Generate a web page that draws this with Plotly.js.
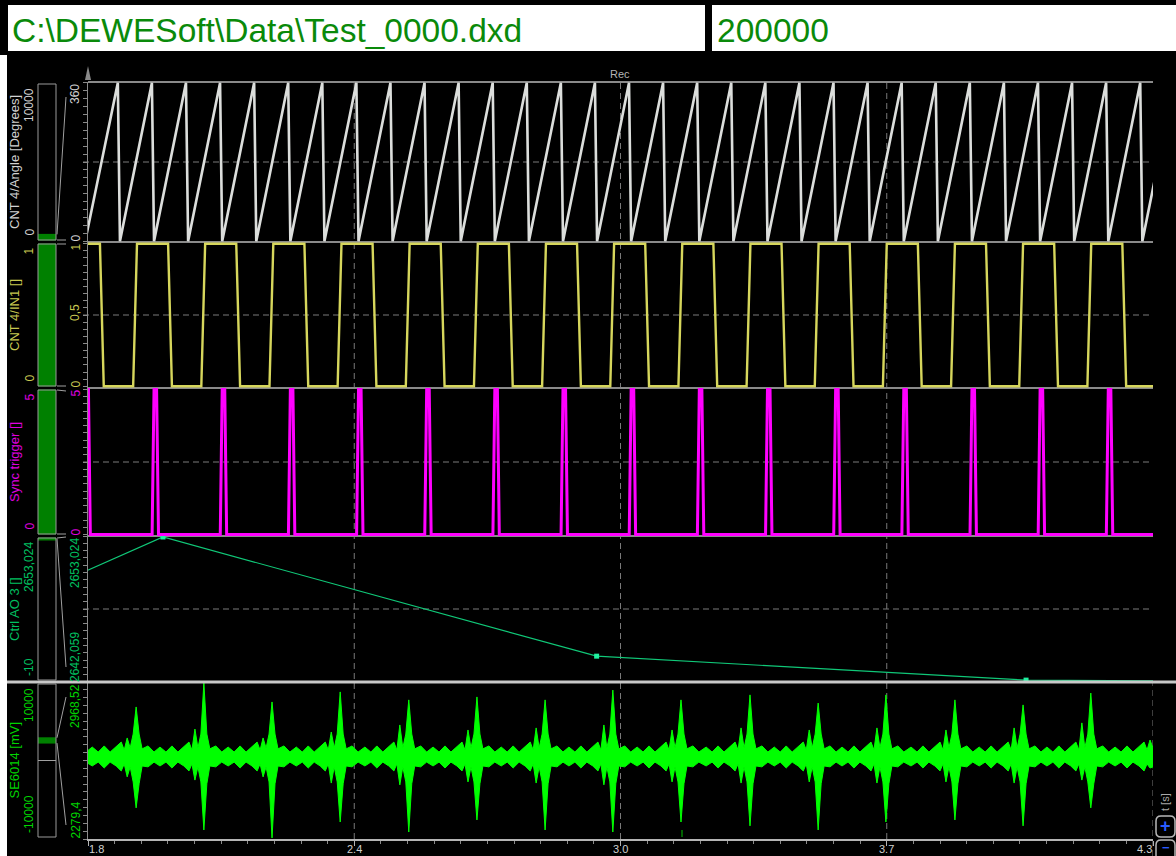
<!DOCTYPE html>
<html><head><meta charset="utf-8">
<script src="https://cdn.plot.ly/plotly-3.0.1.min.js"></script>
<style>html,body{margin:0;padding:0;background:#000;overflow:hidden}#chart{width:1176px;height:856px}</style>
</head><body><div id="chart"></div><script>
// ---------------- data ----------------
const timeTickVals = [1.8, 2.425, 3.05, 3.675, 4.3];
const timeTickText = ['1.8', '2.4', '3.0', '3.7', '4.3'];

const channelNames = ['CNT 4/Angle [Degrees]', 'CNT 4/IN1 []', 'Sync trigger []', 'Ctrl AO 3 []', 'SE6014 [mV]'];
const fullRangeMin = [0, 0, 0, -10, -10000];
const fullRangeMax = [10000, 1, 5, 2653.024, 10000];
const fullRangeText = [['10000', '0'], ['1', '0'], ['5', '0'], ['2653,024', '-10'], ['10000', '-10000']];
const shownMin = [0, 0, 0, 2642.059, 2279.4];
const shownMax = [360, 1, 5, 2653.024, 2968.52];
const shownText = [['360', '0'], ['1', '0'], ['5', '0'], ['2653,024', '2642,059'], ['2968,52', '2279,4']];

// CNT 4/Angle sawtooth: trough (0 deg) and peak (360 deg) times
const angleTroughTimes = [1.7935,1.875,1.955,2.035,2.115,2.195,2.275,2.355,2.435,2.515,2.595,2.675,2.755,2.835,2.915,2.995,3.075,3.155,3.235,3.315,3.395,3.475,3.555,3.635,3.715,3.795,3.875,3.955,4.035,4.115,4.195,4.275];
const anglePeakTimes   = [1.870,1.950,2.030,2.110,2.190,2.270,2.350,2.430,2.510,2.590,2.670,2.750,2.830,2.910,2.990,3.070,3.150,3.230,3.310,3.390,3.470,3.550,3.630,3.710,3.790,3.870,3.950,4.030,4.110,4.190,4.270,4.350];
const angleLow = 0, angleHigh = 360;

// CNT 4/IN1 square wave edges
const in1FallTimes = [1.828,1.988,2.148,2.308,2.468,2.628,2.788,2.948,3.108,3.268,3.428,3.588,3.748,3.908,4.068,4.228];
const in1RiseTimes = [1.906,2.066,2.226,2.386,2.546,2.706,2.866,3.026,3.186,3.346,3.506,3.666,3.826,3.986,4.146,4.306];
const in1Low = 0, in1High = 1;

// Sync trigger pulses
const syncPulseTimes = [1.798,1.958,2.118,2.278,2.438,2.598,2.758,2.918,3.078,3.238,3.398,3.558,3.718,3.878,4.038,4.198];
const syncLow = 0, syncHigh = 5;

// Ctrl AO 3 samples
const ao3Times  = [0.966, 1.976, 2.994, 4.002, 5.010];
const ao3Values = [2638.7, 2652.95, 2644.0, 2642.2, 2642.0];

// SE6014 envelope: per-burst spike values and the quiet-band shape between bursts
const seSpikeTimes = [1.753,1.913,2.072,2.232,2.392,2.553,2.713,2.873,3.032,3.192,3.354,3.514,3.673,3.835,3.995,4.154,4.314];
const seSpikeHigh  = [2889,2859,2964,2881,2925,2890,2903,2890,2933,2890,2912,2876,2912,2890,2868,2920,2890];
const seSpikeLow   = [2363,2416,2319,2284,2354,2310,2363,2319,2310,2354,2337,2319,2354,2363,2337,2416,2363];
const sePreHigh    = [2758,2723,2762,2723,2749,2780,2758,2767,2780,2758,2767,2758,2767,2758,2767,2789,2714];
const sePreLow     = [2530,2552,2538,2552,2525,2517,2530,2525,2517,2530,2525,2530,2525,2530,2525,2538,2591];
const seBandOffsets = [-0.103,-0.089,-0.075,-0.061,-0.047,-0.035,-0.028,-0.014,-0.007,0.007,0.014,0.028,0.042];
const seBandHigh    = [2683,2661,2688,2661,2683,2705,2670,2679,2740,2740,2675,2688,2661];
const seBandLow     = [2600,2617,2591,2617,2600,2578,2609,2596,2530,2522,2600,2596,2617];
const sePreOffset = -0.021;

// ---------------- geometry helpers ----------------
const W = 1176, H = 856;
const PL = 88, PR = 1153, PT = 82, PB = 839;
const P = x => (x - PL) / (PR - PL);
const Q = y => (PB - y) / (PB - PT);
const panels = [[82,242],[242,388],[388,536],[536,682],[682,839]];
const lineCol = ['#dcdedc', '#d6d65c', '#ff00ff', '#10c878', '#00ff00'];
const lblCol  = ['#d2d2d2', '#c8c850', '#e000e0', '#00c060', '#00d400'];
const FONT = 'Liberation Sans, Arial, sans-serif';

// ---------------- build traces ----------------
const angT = [], angV = [];
angleTroughTimes.forEach((t, i) => {
  angT.push(t); angV.push(angleLow);
  angT.push(anglePeakTimes[i]); angV.push(angleHigh);
});

const EDGE = 0.009;
const in1Ev = in1FallTimes.map(t => [t, 'f']).concat(in1RiseTimes.map(t => [t, 'r'])).sort((a, b) => a[0] - b[0]);
const in1T = [1.75], in1V = [in1High];
in1Ev.forEach(e => {
  if (e[1] === 'f') { in1T.push(e[0], e[0] + EDGE); in1V.push(in1High, in1Low); }
  else { in1T.push(e[0], e[0] + EDGE); in1V.push(in1Low, in1High); }
});
in1T.push(4.4); in1V.push(in1V[in1V.length - 1]);

const syncT = [1.75], syncV = [syncLow];
syncPulseTimes.forEach(t => {
  syncT.push(t - 0.0075, t - 0.003, t + 0.003, t + 0.0075);
  syncV.push(syncLow, syncHigh, syncHigh, syncLow);
});
syncT.push(4.4); syncV.push(syncLow);

const seT = [], seHi = [], seLo = [];
seSpikeTimes.forEach((s, i) => {
  const pts = seBandOffsets.map((o, j) => [o, seBandHigh[j], seBandLow[j]]);
  pts.push([sePreOffset, sePreHigh[i], sePreLow[i]]);
  pts.push([0, seSpikeHigh[i], seSpikeLow[i]]);
  pts.sort((a, b) => a[0] - b[0]);
  pts.forEach(p => { seT.push(+(s + p[0]).toFixed(4)); seHi.push(p[1]); seLo.push(p[2]); });
});

const base = {type: 'scatter', mode: 'lines', xaxis: 'x', hoverinfo: 'skip'};
const traces = [
  Object.assign({}, base, {x: seT, y: seLo, yaxis: 'y5', line: {color: lineCol[4], width: 1}}),
  Object.assign({}, base, {x: seT, y: seHi, yaxis: 'y5', fill: 'tonexty', fillcolor: lineCol[4], line: {color: lineCol[4], width: 1}}),
  Object.assign({}, base, {x: ao3Times, y: ao3Values, yaxis: 'y4', mode: 'lines+markers', line: {color: lineCol[3], width: 1.2}, marker: {color: '#20f0a0', size: 5, symbol: 'square'}}),
  Object.assign({}, base, {x: syncT, y: syncV, yaxis: 'y3', line: {color: lineCol[2], width: 3}}),
  Object.assign({}, base, {x: in1T, y: in1V, yaxis: 'y2', line: {color: lineCol[1], width: 2.4}}),
  Object.assign({}, base, {x: angT, y: angV, yaxis: 'y', line: {color: lineCol[0], width: 2.6}})
];

// ---------------- layout ----------------
const yPad = [[-2, 362], [-0.012, 1.012], [-0.05, 5.05], [shownMin[3], shownMax[3]], [shownMin[4], shownMax[4]]];
const layout = {
  width: W, height: H,
  margin: {l: PL, r: W - PR, t: PT, b: H - PB, pad: 0},
  paper_bgcolor: '#000', plot_bgcolor: '#000',
  showlegend: false,
  xaxis: {
    range: [1.8, 4.3], anchor: 'y5', showgrid: false, zeroline: false,
    showline: true, linecolor: '#b4b4b4', linewidth: 2,
    tickmode: 'array', tickvals: timeTickVals, ticktext: timeTickText, showticklabels: false,
    ticks: 'outside', ticklen: 5, tickcolor: '#b4b4b4', tickwidth: 1,
    minor: {tickmode: 'linear', tick0: 1.8, dtick: 0.0625, ticks: 'outside', ticklen: 3, tickcolor: '#8a8a8a', showgrid: false},
    fixedrange: true
  },
  shapes: [], annotations: []
};
panels.forEach((pn, i) => {
  const key = i === 0 ? 'yaxis' : 'yaxis' + (i + 1);
  layout[key] = {
    domain: [Q(pn[1]), Q(pn[0])], range: yPad[i], anchor: 'x',
    showgrid: false, zeroline: false, showticklabels: false,
    showline: true, linecolor: '#8a8a8a', linewidth: 1,
    ticks: 'outside', ticklen: 4, tickcolor: '#8a8a8a',
    tickmode: 'linear', tick0: shownMin[i], dtick: (shownMax[i] - shownMin[i]) / 20,
    fixedrange: true
  };
});

const S = layout.shapes, A = layout.annotations;
function rectPx(x0, y0, x1, y1, fill, line, layer) {
  S.push({type: 'rect', xref: 'paper', yref: 'paper', x0: P(x0), x1: P(x1), y0: Q(y1), y1: Q(y0),
    fillcolor: fill, line: line || {width: 0}, layer: layer || 'below'});
}
function linePx(x0, y0, x1, y1, line, layer) {
  S.push({type: 'line', xref: 'paper', yref: 'paper', x0: P(x0), x1: P(x1), y0: Q(y0), y1: Q(y1),
    line: line, layer: layer || 'below'});
}
function txt(text, x, y, o) {
  A.push({text: text, x: P(x), y: Q(y), xref: 'paper', yref: 'paper', showarrow: false,
    font: {family: o.family || FONT, size: o.size || 12, color: o.color}, xanchor: o.xa || 'center', yanchor: o.ya || 'middle',
    textangle: o.angle || 0, borderpad: 0});
}
function rrectPath(x0, y0, x1, y1, r) {
  const f = (x, y) => P(x).toFixed(5) + ',' + Q(y).toFixed(5);
  return 'M' + f(x0 + r, y0) + ' L' + f(x1 - r, y0) + ' Q' + f(x1, y0) + ' ' + f(x1, y0 + r) +
    ' L' + f(x1, y1 - r) + ' Q' + f(x1, y1) + ' ' + f(x1 - r, y1) + ' L' + f(x0 + r, y1) +
    ' Q' + f(x0, y1) + ' ' + f(x0, y1 - r) + ' L' + f(x0, y0 + r) + ' Q' + f(x0, y0) + ' ' + f(x0 + r, y0) + ' Z';
}

// header
rectPx(8, 5, 705, 51, '#ffffff');
rectPx(712, 5, 1176, 51, '#ffffff');
txt('C:\\DEWESoft\\Data\\Test_0000.dxd', 11, 30, {size: 33.5, color: '#0a8a0a', xa: 'left'});
txt('200000', 716, 30, {size: 33.5, color: '#0a8a0a', xa: 'left'});
// left white strip
rectPx(0, 55, 7, 856, '#ffffff');

// grid: vertical dashed
[2.425, 3.05, 3.675].forEach(v => S.push({type: 'line', xref: 'x', yref: 'paper', x0: v, x1: v, y0: 0, y1: 1,
  line: {color: '#7a7a7a', width: 1, dash: '6px,4px'}, layer: 'below'}));
S.push({type: 'line', xref: 'x', yref: 'paper', x0: 4.3, x1: 4.3, y0: Q(856), y1: Q(682),
  line: {color: '#7a7a7a', width: 1, dash: '6px,4px'}, layer: 'below'});
// grid: horizontal dashed mid lines
panels.forEach(pn => linePx(83, (pn[0] + pn[1]) / 2, PR, (pn[0] + pn[1]) / 2, {color: '#7a7a7a', width: 1, dash: '6px,4px'}));
// panel borders
linePx(PL, 82, PR, 82, {color: '#8a8a8a', width: 2});
[242, 388, 536].forEach(y => linePx(PL, y, PR, y, {color: '#8a8a8a', width: 2}));
linePx(7, 682, W, 682, {color: '#c8c8c8', width: 3}, 'above');
// top arrow
S.push({type: 'path', xref: 'paper', yref: 'paper', path: 'M' + P(85) + ',' + Q(80) + ' L' + P(91) + ',' + Q(80) + ' L' + P(88) + ',' + Q(66) + ' Z',
  fillcolor: '#8a8a8a', line: {width: 0}, layer: 'above'});
txt('Rec', 620, 74, {size: 11, color: '#b4b4b4'});

// left bars, range lines and labels
const axisEndTop = [97, 244, 391, 537, 697];
const axisEndBot = [240, 386, 534, 667, 825];
panels.forEach((pn, i) => {
  const bt = pn[0] + 2, bb = pn[1] - 2;
  const map = v => bb - (v - fullRangeMin[i]) / (fullRangeMax[i] - fullRangeMin[i]) * (bb - bt);
  const yMax = map(shownMax[i]), yMin = map(shownMin[i]);
  rectPx(38, yMax - 0.5, 56, Math.max(yMin, yMax + 2) + 0.5, '#008000');
  if (i === 4) linePx(38, map(0), 56, map(0), {color: '#a0a0a0', width: 1});
  rectPx(38, bt, 56, bb, 'rgba(0,0,0,0)', {color: '#9a9a9a', width: 1}, 'above');
  linePx(57, yMax, 66, axisEndTop[i], {color: '#a0a0a0', width: 1});
  linePx(57, yMin, 66, axisEndBot[i], {color: '#a0a0a0', width: 1});
  txt(channelNames[i], 14, (pn[0] + pn[1]) / 2, {size: 13, color: lblCol[i], angle: -90});
  txt(fullRangeText[i][0], 29, pn[0] + 5, {size: 12, color: lblCol[i], angle: -90, ya: 'top'});
  txt(fullRangeText[i][1], 29, pn[1] - 5, {size: 12, color: lblCol[i], angle: -90, ya: 'bottom'});
  txt(shownText[i][0], 75, pn[0] + 1, {size: 12, color: lblCol[i], angle: -90, ya: 'top'});
  txt(shownText[i][1], 75, pn[1] + 1, {size: 12, color: lblCol[i], angle: -90, ya: 'bottom'});
});
txt('0,5', 75, 313, {size: 12, color: lblCol[1], angle: -90});

// x tick labels
timeTickVals.forEach((v, i) => {
  A.push({text: timeTickText[i], x: v, y: Q(849), xref: 'x', yref: 'paper', showarrow: false,
    xanchor: i === 0 ? 'left' : (i === timeTickVals.length - 1 ? 'right' : 'center'), yanchor: 'middle',
    font: {family: FONT, size: 11, color: '#d0d0d0'}, borderpad: 0});
});
// green cursor mark
linePx(682, 830, 682, 837, {color: '#00c000', width: 1}, 'above');

// right-bottom controls
txt('t [s]', 1165, 802, {size: 11, color: '#a8a8a8', angle: -90});
S.push({type: 'path', xref: 'paper', yref: 'paper', path: rrectPath(1156, 816, 1175, 837, 5), fillcolor: '#000', line: {color: '#b8b8b8', width: 1.5}, layer: 'above'});
S.push({type: 'path', xref: 'paper', yref: 'paper', path: rrectPath(1156, 840, 1175, 864, 5), fillcolor: '#000', line: {color: '#b8b8b8', width: 1.5}, layer: 'above'});
txt('<b>+</b>', 1165.5, 826, {size: 18, color: '#2a5cff'});
txt('<b>−</b>', 1165.5, 847, {size: 13, color: '#2a5cff'});

Plotly.newPlot('chart', traces, layout, {staticPlot: true, displayModeBar: false});
</script></body></html>
